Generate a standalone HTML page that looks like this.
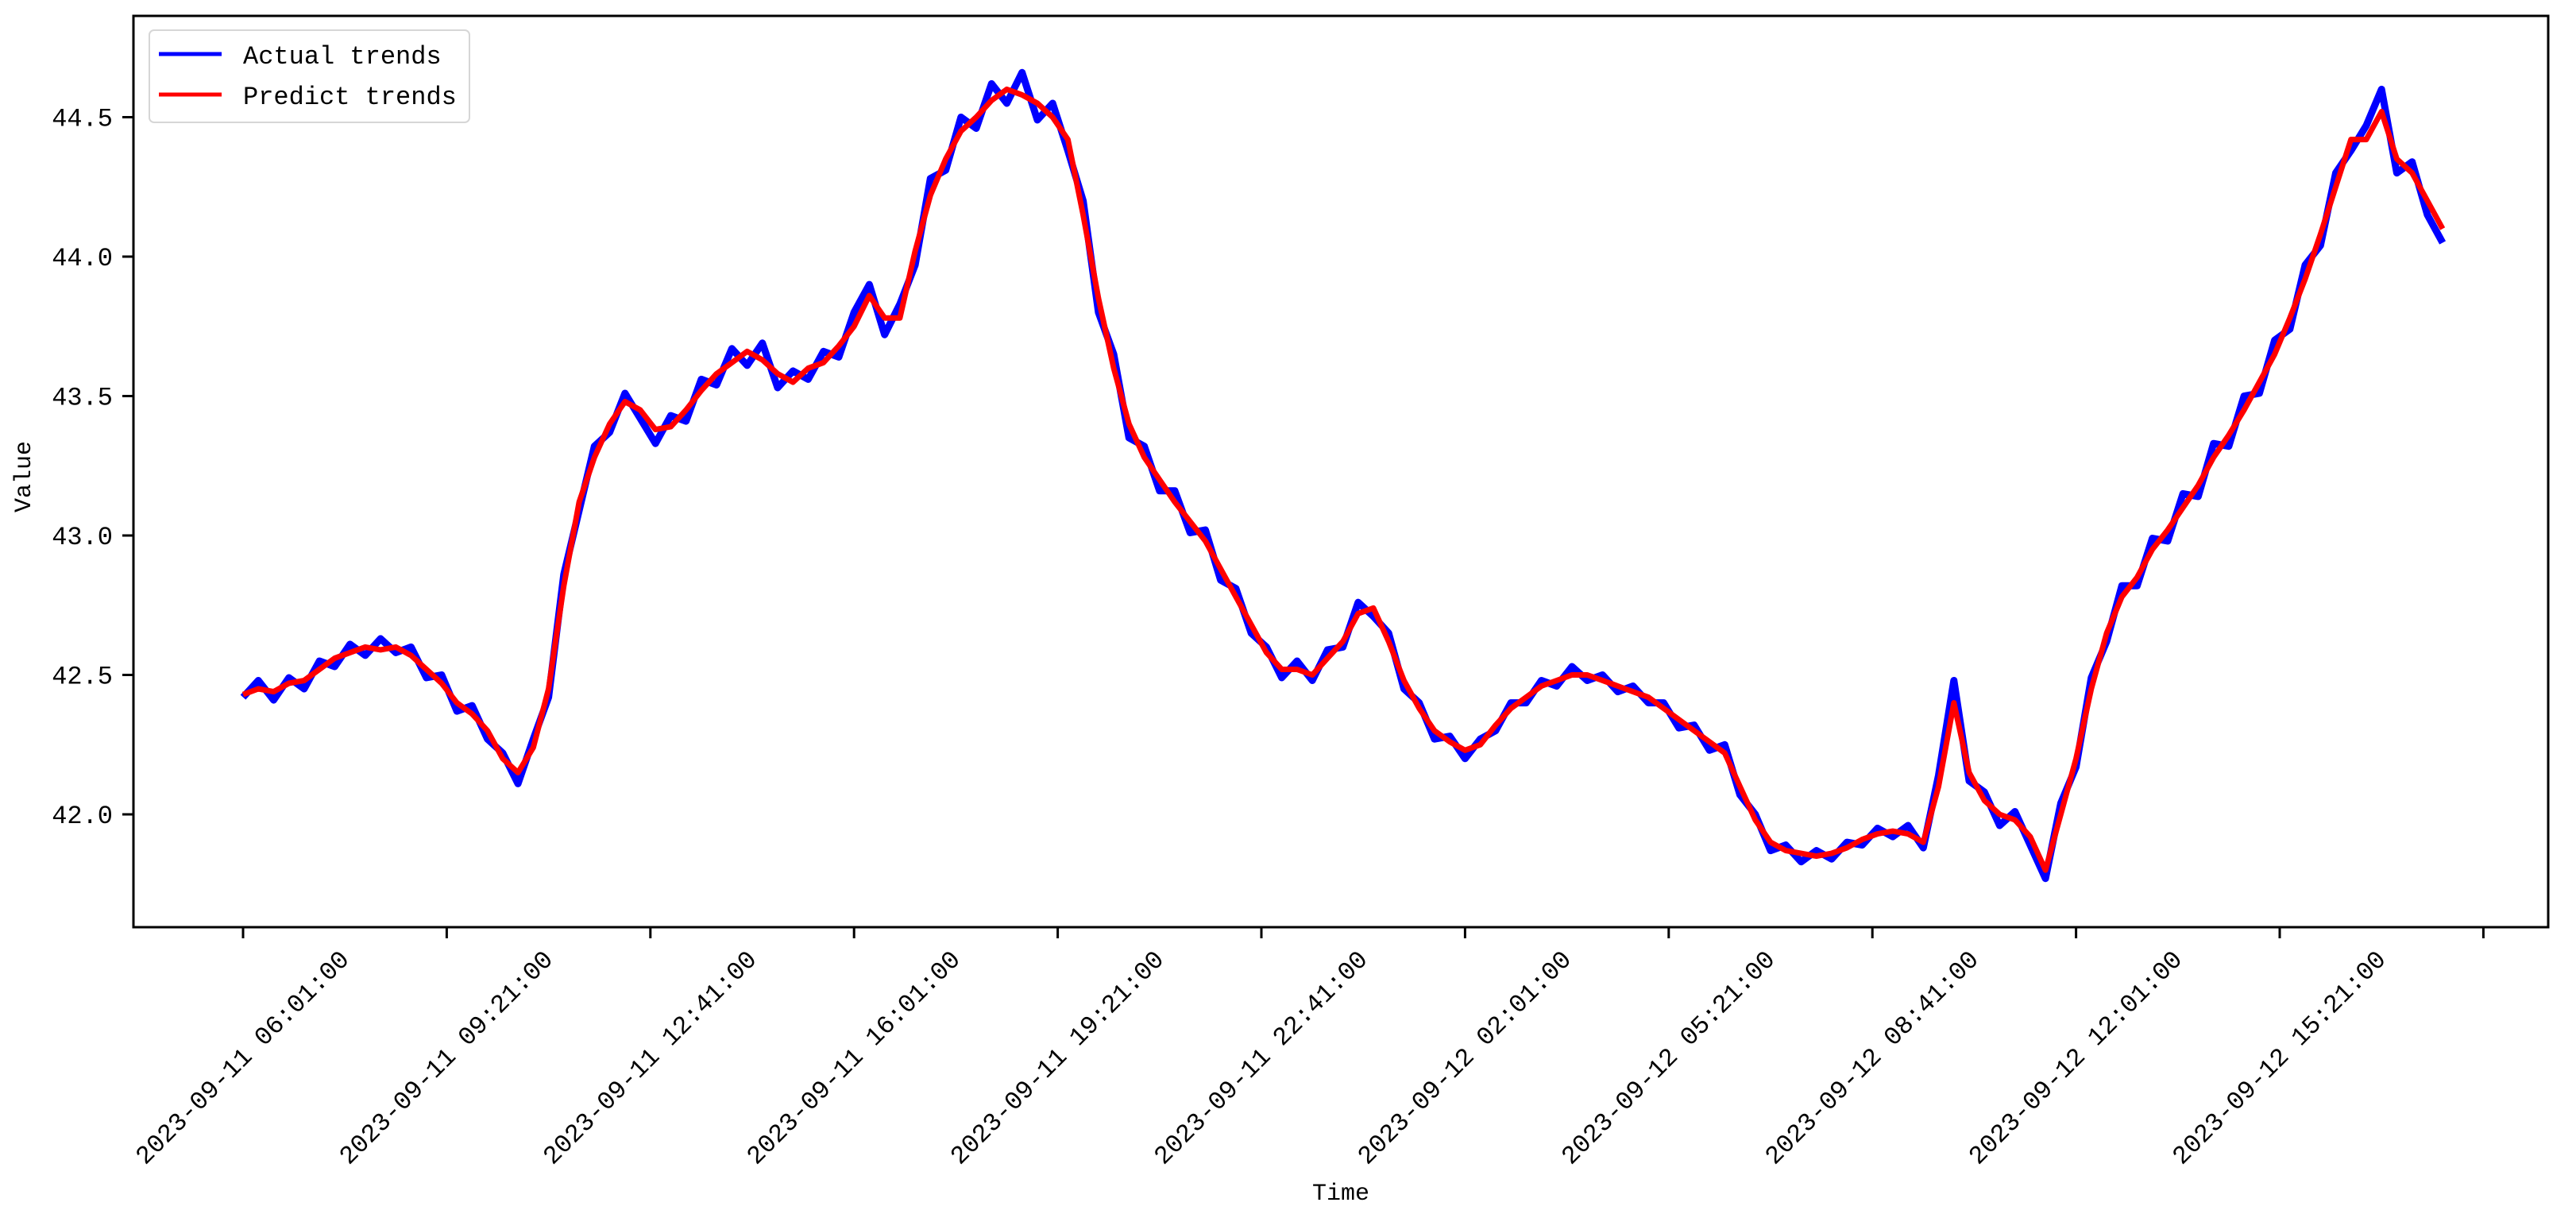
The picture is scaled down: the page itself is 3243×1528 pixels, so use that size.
<!DOCTYPE html>
<html><head><meta charset="utf-8"><style>
html,body{margin:0;padding:0;background:#fff;}
svg{display:block;}
text{font-family:"Liberation Mono","Noto Sans CJK SC",monospace;fill:#000;}
</style></head><body>
<svg id="chart" width="3243" height="1528" viewBox="0 0 3243 1528" xmlns="http://www.w3.org/2000/svg">
<rect width="3243" height="1528" fill="#fff"/>
<g id="marks"></g>
<g id="axes"></g>
<g>
<rect x="188" y="38" width="403" height="116" rx="6" fill="#fff" fill-opacity="0.85" stroke="#d6d6d6" stroke-width="2"/>
<line x1="200" y1="68" x2="279" y2="68" stroke="#0000ff" stroke-width="5"/>
<text x="306" y="80" font-size="32">Actual trends</text>
<line x1="200" y1="119" x2="279" y2="119" stroke="#ff0000" stroke-width="5"/>
<text x="306" y="131" font-size="32">Predict trends</text>
</g>
<text x="1688" y="1510" font-size="30" text-anchor="middle">Time</text>
<text transform="translate(38,600) rotate(-90)" font-size="30" text-anchor="middle">Value</text>
</svg>
<script>
const stepMinutes = 15;
const predictValues = [42.43,42.45,42.44,42.47,42.48,42.52,42.56,42.58,42.60,42.59,42.60,42.57,42.52,42.47,42.40,42.36,42.30,42.20,42.15,42.24,42.45,42.82,43.12,43.28,43.40,43.48,43.45,43.38,43.39,43.45,43.52,43.58,43.62,43.66,43.63,43.58,43.55,43.60,43.62,43.68,43.75,43.86,43.78,43.78,44.02,44.22,44.35,44.45,44.50,44.56,44.60,44.58,44.55,44.50,44.42,44.15,43.85,43.60,43.40,43.28,43.20,43.12,43.05,42.98,42.88,42.78,42.68,42.58,42.52,42.52,42.50,42.56,42.62,42.72,42.74,42.62,42.48,42.38,42.30,42.26,42.23,42.25,42.32,42.38,42.42,42.46,42.48,42.50,42.50,42.48,42.46,42.44,42.42,42.38,42.34,42.30,42.26,42.22,42.10,41.98,41.90,41.87,41.86,41.85,41.86,41.88,41.91,41.93,41.94,41.93,41.90,42.10,42.40,42.15,42.05,42.00,41.98,41.92,41.80,42.00,42.20,42.45,42.65,42.78,42.85,42.95,43.02,43.10,43.18,43.28,43.36,43.45,43.55,43.65,43.78,43.92,44.08,44.25,44.42,44.42,44.52,44.35,44.30,44.20,44.10];
const actualValues = [42.42,42.48,42.41,42.49,42.45,42.55,42.53,42.61,42.57,42.63,42.58,42.60,42.49,42.50,42.37,42.39,42.27,42.22,42.11,42.27,42.42,42.86,43.09,43.32,43.37,43.51,43.42,43.33,43.43,43.41,43.56,43.54,43.67,43.61,43.69,43.53,43.59,43.56,43.66,43.64,43.80,43.90,43.72,43.83,43.97,44.28,44.31,44.50,44.46,44.62,44.55,44.66,44.49,44.55,44.38,44.20,43.80,43.65,43.35,43.32,43.16,43.16,43.01,43.02,42.84,42.81,42.65,42.60,42.49,42.55,42.48,42.59,42.60,42.76,42.71,42.65,42.45,42.40,42.27,42.28,42.20,42.27,42.30,42.40,42.40,42.48,42.46,42.53,42.48,42.50,42.44,42.46,42.40,42.40,42.31,42.32,42.23,42.25,42.07,42.00,41.87,41.89,41.83,41.87,41.84,41.90,41.89,41.95,41.92,41.96,41.88,42.14,42.48,42.12,42.08,41.96,42.01,41.89,41.77,42.04,42.17,42.49,42.62,42.82,42.82,42.99,42.98,43.15,43.14,43.33,43.32,43.50,43.51,43.70,43.74,43.97,44.04,44.30,44.38,44.47,44.60,44.30,44.34,44.15,44.05];
const xTickMinutes = [0,200,400,600,800,1000,1200,1400,1600,1800,2000,2200];
const xTickLabels = ["2023-09-11 06:01:00","2023-09-11 09:21:00","2023-09-11 12:41:00","2023-09-11 16:01:00","2023-09-11 19:21:00","2023-09-11 22:41:00","2023-09-12 02:01:00","2023-09-12 05:21:00","2023-09-12 08:41:00","2023-09-12 12:01:00","2023-09-12 15:21:00",""];
const yTickValues = [42.0,42.5,43.0,43.5,44.0,44.5];
const yTickLabels = ["42.0","42.5","43.0","43.5","44.0","44.5"];

const NS = "http://www.w3.org/2000/svg";
const L = 168, R = 3208, T = 20, B = 1167;
function xScale(m){ return 306 + m * (256.4/200); }
function yScale(v){ return 1025 - (v - 42) * 351; }
function mk(tag, attrs, parent){ const e = document.createElementNS(NS, tag); for (const k in attrs) e.setAttribute(k, attrs[k]); parent.appendChild(e); return e; }

const marks = document.getElementById('marks');
function drawSeries(vals, color, name, w){
  const d = vals.map((v,i)=>(i?'L':'M')+xScale(i*stepMinutes).toFixed(1)+','+yScale(v).toFixed(1)).join('');
  const p = mk('path', {d:d, fill:'none', stroke:color, 'stroke-width':w, 'stroke-linejoin':'round'}, marks);
  
  
}
drawSeries(actualValues, '#0000ff', 'actual-trends-line', 9);
drawSeries(predictValues, '#ff0000', 'predict-trends-line', 7);

const axes = document.getElementById('axes');
const frame = mk('rect', {x:L, y:T, width:R-L, height:B-T, fill:'none', stroke:'#000', 'stroke-width':3}, axes);


xTickMinutes.forEach((m,i)=>{
  const x = xScale(m);
  const t = mk('line', {x1:x, y1:B, x2:x, y2:B+14, stroke:'#000', 'stroke-width':3}, axes);
  
  
  if (xTickLabels[i]) {
    const tx = mk('text', {x:0, y:0, 'font-size':32, 'text-anchor':'middle', 'dominant-baseline':'central', transform:'translate('+x+',1332) rotate(-45)'}, axes);
    tx.textContent = xTickLabels[i];
    
    
  }
});
yTickValues.forEach((v,i)=>{
  const y = yScale(v);
  const t = mk('line', {x1:L-14, y1:y, x2:L, y2:y, stroke:'#000', 'stroke-width':3}, axes);
  
  
  const tx = mk('text', {x:L-26, y:y+11, 'font-size':32, 'text-anchor':'end'}, axes);
  tx.textContent = yTickLabels[i];
  
  
});
</script>
</body></html>
